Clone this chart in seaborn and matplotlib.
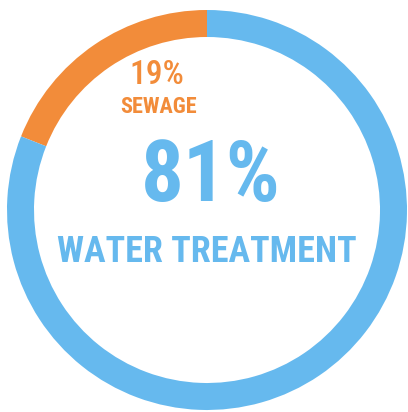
import matplotlib
matplotlib.use("Agg")
import matplotlib.pyplot as plt
import seaborn as sns

labels = ["SEWAGE", "WATER TREATMENT"]
values = [19, 81]
colors = ["#f28c3a", "#66b9ee"]

sns.set_theme(style="white")
plt.rcParams['font.family'] = ['Roboto', 'DejaVu Sans']

fig = plt.figure(figsize=(4.08, 4.12), dpi=100)
ax = fig.add_axes([0, 0, 1, 1])
ax.pie(values, colors=colors, startangle=90, counterclock=True,
       wedgeprops=dict(width=0.135, edgecolor="none"), radius=1.0)
ax.set_xlim(-1.03, 1.0)
ax.set_ylim(-1.01, 1.05)
ax.set_aspect("equal")
ax.axis("off")

fam = ['Liberation Sans Narrow', 'Roboto Condensed', 'Roboto']
ax.text(-0.25, 0.675, f"{values[0]}%", color=colors[0], fontsize=24, fontweight="medium",
        ha="center", va="center", family=fam)
ax.text(-0.24, 0.515, labels[0], color=colors[0], fontsize=16, fontweight="bold",
        ha="center", va="center", family=fam)
ax.text(0.02, 0.16, f"{values[1]}%", color=colors[1], fontsize=61, fontweight="bold",
        ha="center", va="center", family=fam)
ax.text(0.0, -0.21, labels[1], color=colors[1], fontsize=26, fontweight="bold",
        ha="center", va="center", family=fam)

fig.savefig("out.png", dpi=100, facecolor="white")
